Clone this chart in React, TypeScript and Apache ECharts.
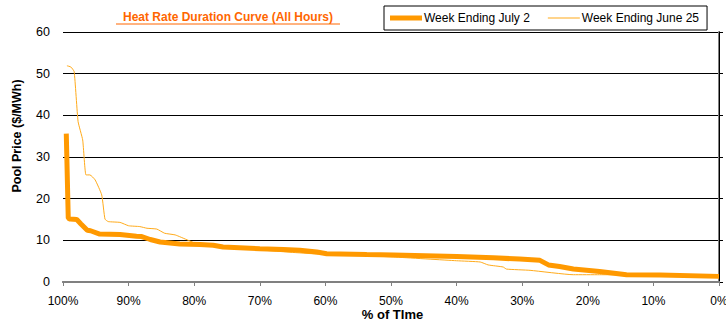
import React, { useEffect, useRef } from "react";
import * as echarts from "echarts";

const july2X = [99.5, 99.2, 98.9, 97.9, 97.3, 96.3, 95.8, 94.4, 91.3, 88.8, 88.0, 86.7, 85.2, 82.2, 79.1, 77.1, 75.6, 70.0, 66.4, 63.9, 61.3, 59.8, 53.7, 49.6, 40, 34.4, 30.4, 27.3, 26.0, 24.3, 22.2, 18.2, 14.1, 9, 0];
const july2Y = [35.6, 15.3, 15.1, 15.0, 14.0, 12.4, 12.3, 11.5, 11.4, 11.0, 10.9, 10.2, 9.6, 9.1, 9.0, 8.8, 8.4, 8.0, 7.8, 7.6, 7.2, 6.8, 6.6, 6.5, 6.1, 5.8, 5.5, 5.2, 4.1, 3.7, 3.1, 2.5, 1.75, 1.7, 1.35];

const june25X = [99.4, 98.8, 98.3, 97.7, 97.0, 96.5, 95.9, 95.1, 94.1, 93.6, 93.1, 91.3, 90.0, 88.3, 87.2, 85.7, 84.5, 82.9, 80.9, 79.5, 75, 70, 65, 60, 55, 49.6, 40, 36.4, 35.2, 32.9, 32.4, 28.8, 22.2, 18.2, 14, 0];
const june25Y = [51.9, 51.6, 50.5, 38.5, 34.1, 25.7, 25.7, 24.5, 20.9, 15.1, 14.5, 14.3, 13.5, 13.3, 12.9, 12.7, 11.7, 11.3, 10.0, 9.1, 8.4, 7.7, 7.1, 6.6, 6.4, 6.0, 5.1, 4.8, 4.1, 3.6, 3.1, 2.8, 1.75, 1.75, 1.7, 1.35];

const seriesNames = ["Week Ending July 2", "Week Ending June 25"];
const titleText = "Heat Rate Duration Curve (All Hours)";
const yAxisTitle = "Pool Price ($/MWh)";
const xAxisTitle = "% of TIme";

export default function App() {
  const ref = useRef<HTMLDivElement>(null);
  useEffect(() => {
    if (!ref.current) return;
    const chart = echarts.init(ref.current, null, { renderer: "svg" });
    const font = "Arial, 'Liberation Sans', sans-serif";
    const thickColor = "#FF9900";
    const thinColor = "#FFAA1A";
    chart.setOption({
      animation: false,
      backgroundColor: "#fff",
      textStyle: { fontFamily: font },
      grid: { left: 63, right: 7, top: 32, bottom: 40, containLabel: false, outerBoundsMode: "none" },
      legend: {
        data: [
          { name: seriesNames[0], icon: "path://M0,0 L32,0 L32,5 L0,5 Z", itemStyle: { color: thickColor } },
          { name: seriesNames[1], icon: "path://M0,0 L30,0 L30,1 L0,1 Z", itemStyle: { color: thinColor } },
        ],
        left: 384,
        top: 6,
        padding: [6, 8, 6, 6],
        itemWidth: 32,
        itemHeight: 10,
        itemGap: 18,
        borderColor: "#000",
        borderWidth: 1,
        backgroundColor: "#fff",
        z: 10,
        textStyle: { fontSize: 12, color: "#000", fontFamily: font, padding: [0, 0, 0, -3] },
      },
      graphic: [
        {
          type: "text",
          x: 228,
          y: 17,
          style: {
            text: titleText,
            fill: "#FF6600",
            font: `bold 12px ${font}`,
            textAlign: "center",
            textVerticalAlign: "middle",
          },
        },
        {
          type: "line",
          shape: { x1: 116, y1: 24, x2: 340, y2: 24 },
          style: { stroke: "#FF6600", lineWidth: 1 },
        },
        {
          type: "text",
          x: 17,
          y: 136,
          rotation: Math.PI / 2,
          style: {
            text: yAxisTitle,
            fill: "#000",
            font: `bold 12.5px ${font}`,
            textAlign: "center",
            textVerticalAlign: "middle",
          },
        },
        {
          type: "text",
          x: 392.5,
          y: 314.5,
          style: {
            text: xAxisTitle,
            fill: "#000",
            font: `bold 13px ${font}`,
            textAlign: "center",
            textVerticalAlign: "middle",
          },
        },
      ],
      xAxis: [
        {
          type: "value",
          min: 0,
          max: 100,
          interval: 10,
          inverse: true,
          position: "bottom",
          axisLine: { show: true, lineStyle: { color: "#808080", width: 2 } },
          axisTick: { show: true, inside: false, length: 4, lineStyle: { color: "#808080" } },
          axisLabel: { formatter: (v: number) => `${v}%`, fontSize: 12, lineHeight: 12, color: "#000", margin: 13, fontFamily: font },
          splitLine: { show: false },
        },
        {
          type: "value",
          min: 0,
          max: 100,
          inverse: true,
          position: "top",
          axisLine: { show: true, lineStyle: { color: "#808080", width: 2 } },
          axisTick: { show: false },
          axisLabel: { show: false },
          splitLine: { show: false },
        },
      ],
      yAxis: [
        {
          type: "value",
          min: 0,
          max: 60,
          interval: 10,
          position: "left",
          axisLine: { show: true, lineStyle: { color: "#808080", width: 2 } },
          axisTick: { show: false },
          axisLabel: { fontSize: 12.5, color: "#000", margin: 13, fontFamily: font },
          splitLine: { show: true, lineStyle: { color: "#000", width: 1 } },
        },
        {
          type: "value",
          min: 0,
          max: 60,
          interval: 10,
          position: "right",
          axisLine: { show: true, lineStyle: { color: "#000", width: 1 } },
          axisTick: { show: true, inside: false, length: 4, lineStyle: { color: "#000" } },
          axisLabel: { show: false },
          splitLine: { show: false },
        },
      ],
      series: [
        {
          name: seriesNames[1],
          type: "line",
          data: june25X.map((x, i) => [x, june25Y[i]]),
          symbol: "none",
          smooth: 0.15,
          z: 2,
          lineStyle: { color: thinColor, width: 1 },
          itemStyle: { color: thinColor },
        },
        {
          name: seriesNames[0],
          type: "line",
          data: july2X.map((x, i) => [x, july2Y[i]]),
          symbol: "none",
          z: 3,
          lineStyle: { color: thickColor, width: 5 },
          itemStyle: { color: thickColor },
        },
      ],
    });
    return () => chart.dispose();
  }, []);
  return <div ref={ref} style={{ width: 726, height: 322, position: "absolute", left: 0, top: 0 }} />;
}
